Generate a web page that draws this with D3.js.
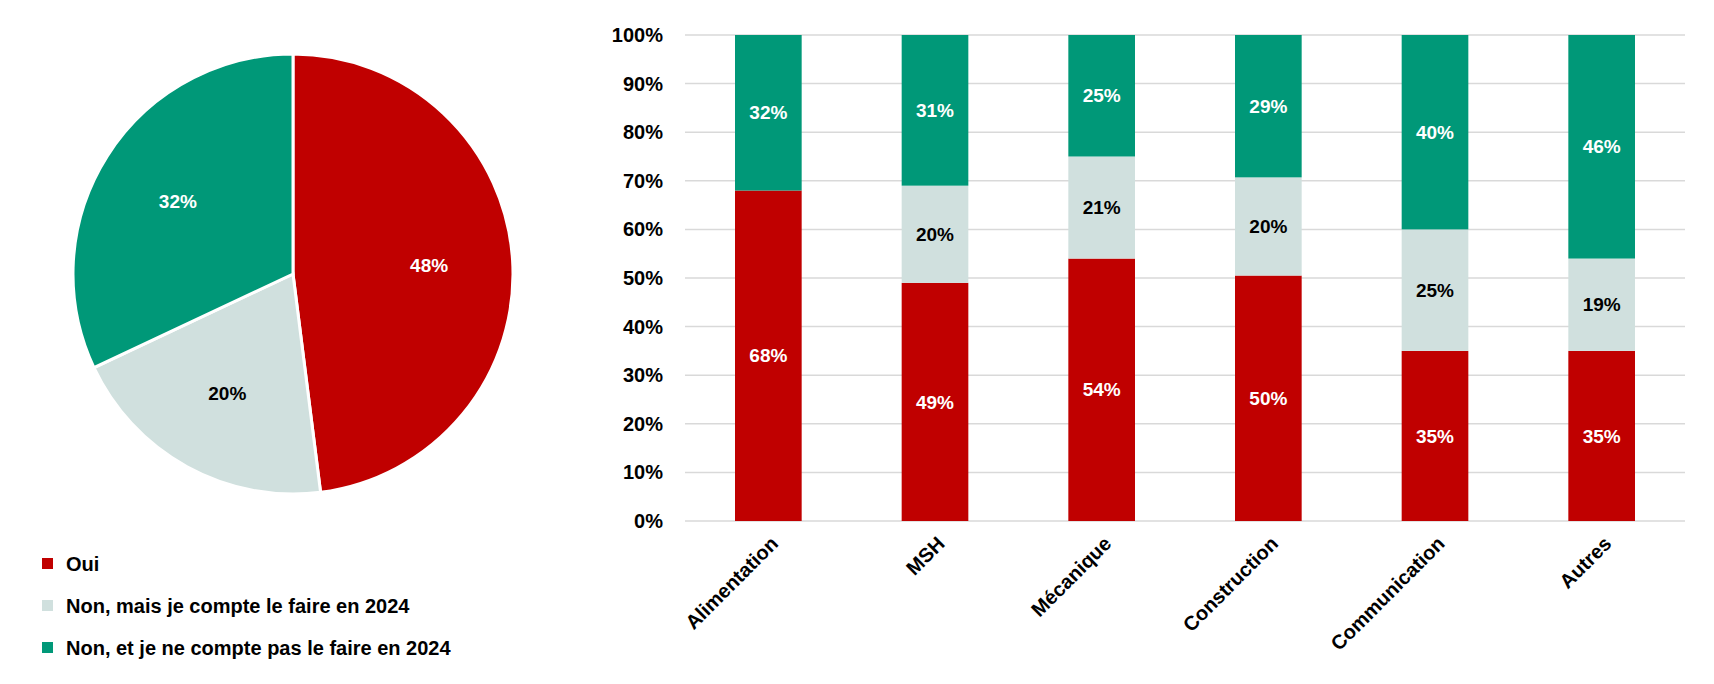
<!DOCTYPE html>
<html><head><meta charset="utf-8">
<script src="https://cdn.jsdelivr.net/npm/d3@7"></script>
<style>
body{margin:0;background:#fff}
text{font-family:"Liberation Sans",Arial,sans-serif;font-weight:bold}
</style></head>
<body><svg id="c" width="1714" height="684"></svg>
<script>
const series = ['Oui', 'Non, mais je compte le faire en 2024', 'Non, et je ne compte pas le faire en 2024'];
const colors = ['#C00000', '#D0E0DE', '#009878'];
const labelColors = ['#fff', '#000', '#fff'];
const pieValues = [48, 20, 32];
const categories = ['Alimentation', 'MSH', 'Mécanique', 'Construction', 'Communication', 'Autres'];
const oui = [68, 49, 54, 50, 35, 35];
const plan = [0, 20, 21, 20, 25, 19];
const non = [32, 31, 25, 29, 40, 46];
const yTicks = [0, 10, 20, 30, 40, 50, 60, 70, 80, 90, 100];

const svg = d3.select('#c');

// Pie
const cx = 293, cy = 274, r = 220;
const pie = d3.pie().sort(null)(pieValues);
const arc = d3.arc().innerRadius(0).outerRadius(r);
const labelArc = d3.arc().innerRadius(r * 0.62).outerRadius(r * 0.62);
const gp = svg.append('g').attr('transform', `translate(${cx},${cy})`);
gp.selectAll('path').data(pie).join('path')
    .attr('d', arc).attr('fill', (d, i) => colors[i])
    .attr('stroke', '#fff').attr('stroke-width', 3);
gp.selectAll('text').data(pie).join('text')
    .attr('transform', d => `translate(${labelArc.centroid(d)})`)
    .attr('text-anchor', 'middle').attr('dy', '0.35em')
    .attr('font-size', 19).attr('fill', (d, i) => labelColors[i])
    .text(d => d.data + '%');

// Legend
const lg = svg.append('g').selectAll('g').data(series).join('g')
    .attr('transform', (d, i) => `translate(42,${564 + i * 42})`);
lg.append('rect').attr('x', 0).attr('y', -6).attr('width', 11).attr('height', 11)
    .attr('fill', (d, i) => colors[i]);
lg.append('text').attr('x', 24).attr('dy', '0.35em').attr('font-size', 20).text(d => d);

// Stacked bars
const rows = categories.map((c, i) => ({ cat: c, 0: oui[i], 1: plan[i], 2: non[i] }));
const stack = d3.stack().keys([0, 1, 2]).offset(d3.stackOffsetExpand)(rows);
const x = d3.scaleBand().domain(categories).range([685, 1685]).paddingInner(0.6).paddingOuter(0.3);
const y = d3.scaleLinear().domain([0, 1]).range([521, 35]);

svg.append('g').selectAll('line').data(yTicks).join('line')
    .attr('x1', 685).attr('x2', 1685)
    .attr('y1', d => y(d / 100)).attr('y2', d => y(d / 100))
    .attr('stroke', '#d9d9d9').attr('stroke-width', 1.5);
svg.append('g').selectAll('text').data(yTicks).join('text')
    .attr('x', 663).attr('y', d => y(d / 100)).attr('dy', '0.35em')
    .attr('text-anchor', 'end').attr('font-size', 20).text(d => d + '%');

stack.forEach((s, k) => {
    const g = svg.append('g');
    g.selectAll('rect').data(s).join('rect')
        .attr('x', d => x(d.data.cat)).attr('width', x.bandwidth())
        .attr('y', d => y(d[1])).attr('height', d => y(d[0]) - y(d[1]))
        .attr('fill', colors[k]);
    g.selectAll('text').data(s.filter(d => d.data[k] > 0)).join('text')
        .attr('x', d => x(d.data.cat) + x.bandwidth() / 2)
        .attr('y', d => (y(d[0]) + y(d[1])) / 2).attr('dy', '0.35em')
        .attr('text-anchor', 'middle').attr('font-size', 19)
        .attr('fill', labelColors[k]).text(d => d.data[k] + '%');
});

svg.append('g').selectAll('text').data(categories).join('text')
    .attr('transform', d => `translate(${x(d) + x.bandwidth() / 2 + 6},${540}) rotate(-45)`)
    .attr('text-anchor', 'end').attr('dy', '0.35em')
    .attr('font-size', 20).text(d => d);
</script></body></html>
